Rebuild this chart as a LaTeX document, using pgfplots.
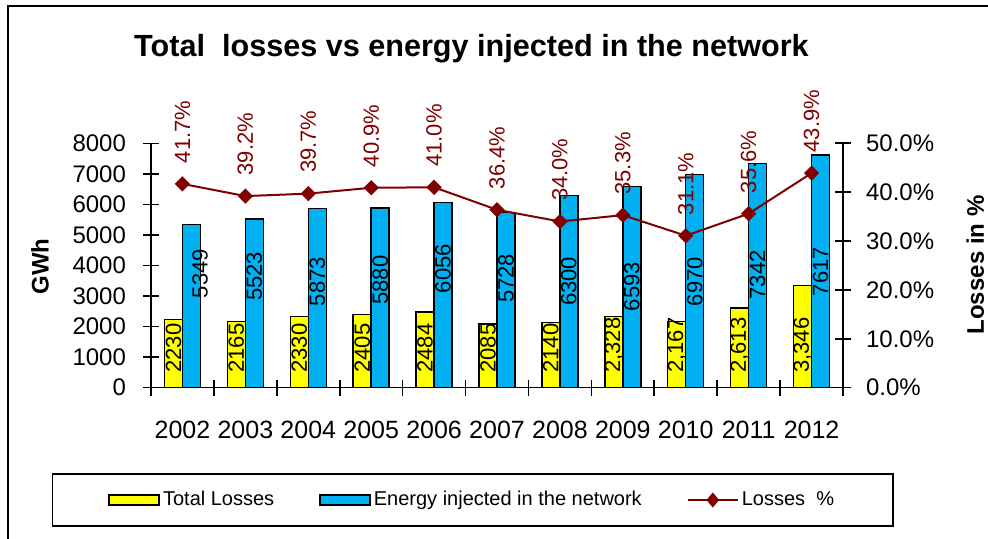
\documentclass[border=0pt]{standalone}
\usepackage{fontspec}
\setmainfont{Liberation Sans}
\usepackage{pgfplots}
\usepackage{pgfplotstable}
\pgfplotsset{compat=1.18}

\definecolor{barYellow}{RGB}{255,255,0}
\definecolor{barBlue}{RGB}{0,176,240}
\definecolor{lossRed}{RGB}{128,0,0}

% bars: total losses and energy injected (GWh)
\pgfplotstableread{
x total energy
0 2230 5349
1 2165 5523
2 2330 5873
3 2405 5880
4 2484 6056
5 2085 5728
6 2140 6300
7 2328 6593
8 2167 6970
9 2613 7342
10 3346 7617
}\bardata

% labels written inside the yellow bars
\pgfplotstableread{
x y label
-0.143 0 2230
0.857 0 2165
1.857 0 2330
2.857 0 2405
3.857 0 2484
4.857 0 2085
5.857 0 2140
6.857 0 2,328
7.857 0 2,167
8.857 0 2,613
9.857 0 3,346
}\losslabels

% labels written inside the blue bars
\pgfplotstableread{
x y label
0.28 3730 5349
1.143 3646 5523
2.143 3470 5873
3.143 3525 5880
4.143 3900 6056
5.143 3580 5728
6.143 3476 6300
7.143 3306 6593
8.143 3470 6970
9.143 3690 7342
10.143 3797 7617
}\energylabels

% losses in percent
\pgfplotstableread{
x pct
0 41.7
1 39.2
2 39.7
3 40.9
4 41.0
5 36.4
6 34.0
7 35.3
8 31.1
9 35.6
10 43.9
}\pctdata

\pgfplotsset{
  chartbase/.style={
    at={(75.5pt,75.65pt)}, anchor=south west,
    scale only axis, width=346pt, height=122.2pt,
    xmin=-0.5, xmax=10.5,
    tick align=center, major tick length=8pt,
    tick style={black, line width=0.8pt},
    axis line style={-, black, line width=0.8pt},
    /pgf/number format/assume math mode=true,
    /pgf/number format/1000 sep={},
    tick label style={font=\fontsize{12}{14}\selectfont},
  },
}

\begin{document}
\begin{tikzpicture}
\useasboundingbox (0,0) rectangle (494pt,269.5pt);
\draw[line width=1.1pt] (4pt,-5pt) -- (4pt,266.5pt) -- (505pt,266.5pt);
\node[font=\fontsize{15.3}{18}\selectfont\bfseries] at (235.75pt,245pt)
  {Total\ \ losses vs energy injected in the network};
\node[font=\fontsize{12}{14}\selectfont\bfseries, rotate=90] at (20pt,136.2pt) {GWh};
\node[font=\fontsize{12}{14}\selectfont\bfseries, rotate=90, anchor=north, inner sep=0pt]
  at (483pt,137pt) {Losses in \%};

\begin{axis}[
  chartbase,
  ymin=0, ymax=8000,
  axis y line*=left, axis x line*=bottom,
  ytick={0,1000,...,8000},
  scaled y ticks=false,
  yticklabel style={xshift=-5pt},
  xtick={-0.5,0.5,...,10.5}, xticklabels={},
  extra x ticks={0,1,2,3,4,5,6,7,8,9,10},
  extra x tick labels={2002,2003,2004,2005,2006,2007,2008,2009,2010,2011,2012},
  extra x tick style={major tick length=0pt,
    tick label style={font=\fontsize{12.5}{14}\selectfont, yshift=-13pt}},
  clip=false,
]
\addplot[ybar, bar width=0.286, bar shift=-0.143, fill=barYellow, draw=black, line width=0.7pt]
  table[x=x, y=total] {\bardata};
\addplot[ybar, bar width=0.286, bar shift=0.143, fill=barBlue, draw=black, line width=0.7pt]
  table[x=x, y=energy] {\bardata};
\addplot[draw=none, nodes near coords, point meta=explicit symbolic,
  nodes near coords style={font=\fontsize{11}{13}\selectfont, black,
    yshift=4pt, rotate=90, anchor=west}]
  table[x=x, y=y, meta=label] {\losslabels};
\addplot[draw=none, nodes near coords, point meta=explicit symbolic,
  nodes near coords style={font=\fontsize{11}{13}\selectfont, black,
    rotate=90, anchor=center}]
  table[x=x, y=y, meta=label] {\energylabels};
\end{axis}

\begin{axis}[
  chartbase,
  ymin=0, ymax=50,
  axis y line*=right, axis x line=none,
  ytick={0,10,...,50},
  yticklabel={\pgfmathprintnumber[fixed, fixed zerofill, precision=1]{\tick}\%},
  yticklabel style={xshift=4pt},
  clip=false,
  legend columns=3,
  legend style={at={(0.465,-0.4595)}, anchor=center, draw=black, line width=0.8pt,
    font=\fontsize{10}{12}\selectfont, inner xsep=28pt, inner ysep=7pt,
    nodes={inner sep=1.5pt},
    /tikz/every even column/.append style={column sep=21pt}},
]
\addlegendimage{legend image code/.code={
  \draw[fill=barYellow, draw=black, line width=0.8pt] (0pt,-2.4pt) rectangle (25pt,2.4pt);}}
\addlegendimage{legend image code/.code={
  \draw[fill=barBlue, draw=black, line width=0.8pt] (0pt,-2.4pt) rectangle (25pt,2.4pt);}}
\addplot[lossRed, line width=1pt, mark=square*, mark size=2.2pt,
  mark options={rotate=45, fill=lossRed},
  nodes near coords={\pgfmathprintnumber[fixed, fixed zerofill, precision=1]{\pgfplotspointmeta}\%},
  point meta=y,
  nodes near coords style={font=\fontsize{11}{13}\selectfont, lossRed,
    yshift=6.5pt, rotate=90, anchor=west},
  legend image code/.code={
    \draw[lossRed, line width=1pt] (0pt,0pt) -- (25pt,0pt);
    \fill[lossRed] (12.5pt,3pt) -- (15pt,0pt) -- (12.5pt,-3pt) -- (10pt,0pt) -- cycle;}]
  table[x=x, y=pct] {\pctdata};
\legend{Total Losses, Energy injected in the network, Losses\ \ \%}
\end{axis}
\end{tikzpicture}
\end{document}
